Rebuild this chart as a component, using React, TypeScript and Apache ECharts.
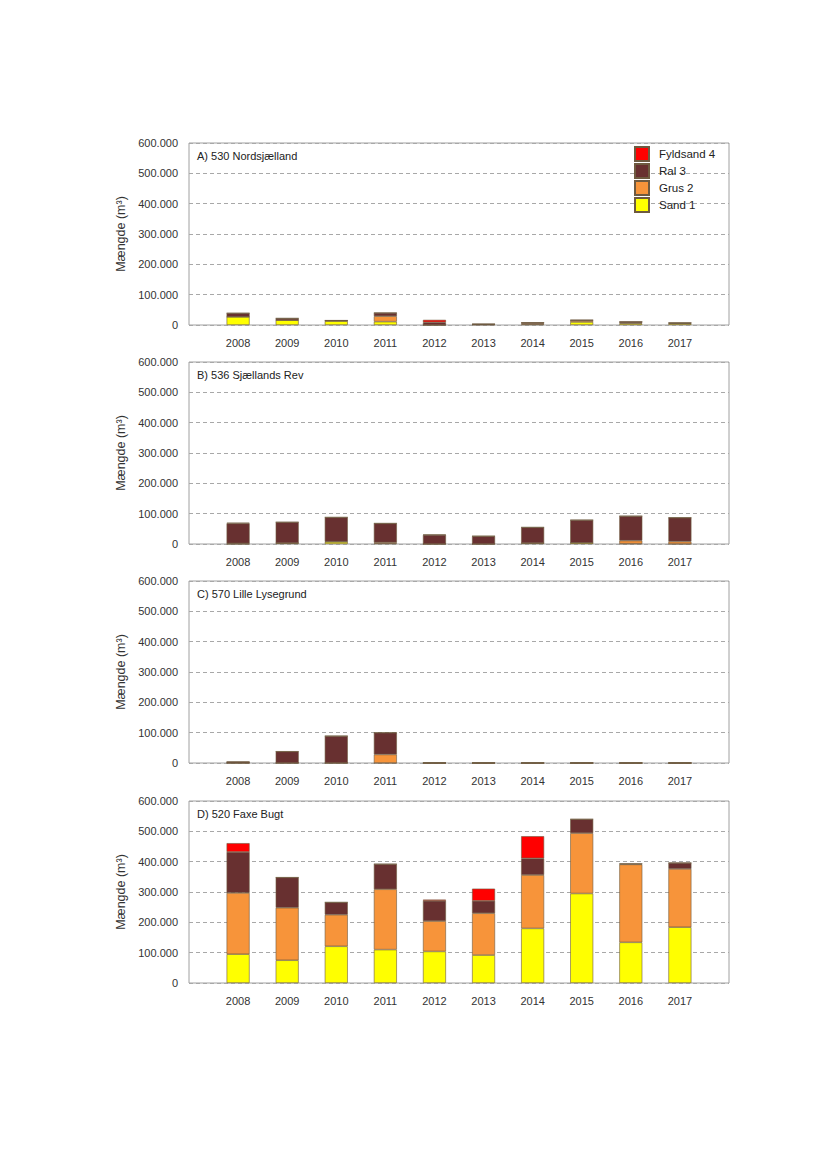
import React, { useEffect, useRef } from "react";
import * as echarts from "echarts";

const years = [2008, 2009, 2010, 2011, 2012, 2013, 2014, 2015, 2016, 2017];
const axisYears = ["2007", ...years.map(String), "2018"];
const seriesNames = ["Sand 1", "Grus 2", "Ral 3", "Fyldsand 4"];
const legendOrder = ["Fyldsand 4", "Ral 3", "Grus 2", "Sand 1"];
const colors = ["#ffff00", "#f7943a", "#683030", "#ff0000"];
const yTicks = [0, 100000, 200000, 300000, 400000, 500000, 600000];

const panelTitles = [
  "A) 530 Nordsjælland",
  "B) 536 Sjællands Rev",
  "C) 570 Lille Lysegrund",
  "D) 520 Faxe Bugt",
];

// Panel A
const aSand = [27000, 16000, 13000, 11000, 0, 1000, 2000, 10000, 5000, 4000];
const aGrus = [0, 0, 1000, 18000, 0, 1000, 3000, 5000, 2000, 2000];
const aRal = [12000, 6000, 1000, 11000, 9000, 1000, 3000, 1000, 4000, 1000];
const aFyld = [0, 0, 0, 0, 8000, 0, 0, 0, 0, 0];

// Panel B
const bSand = [0, 3000, 7000, 2000, 0, 0, 3000, 4000, 1000, 0];
const bGrus = [2000, 0, 1000, 3000, 0, 0, 0, 0, 10000, 8000];
const bRal = [66000, 69000, 80000, 63000, 30000, 26000, 52000, 75000, 81000, 79000];
const bFyld = [2000, 0, 0, 0, 1000, 0, 0, 0, 0, 0];

// Panel C
const cSand = [0, 0, 0, 0, 0, 0, 0, 0, 0, 0];
const cGrus = [0, 0, 0, 28000, 0, 0, 0, 0, 0, 0];
const cRal = [4000, 38000, 89000, 72000, 0, 0, 0, 0, 0, 0];
const cFyld = [0, 0, 0, 0, 0, 0, 0, 0, 0, 0];

// Panel D
const dSand = [95000, 75000, 121000, 110000, 104000, 92000, 180000, 295000, 134000, 184000];
const dGrus = [202000, 173000, 104000, 199000, 100000, 138000, 176000, 199000, 257000, 192000];
const dRal = [135000, 100000, 41000, 83000, 67000, 41000, 55000, 46000, 2000, 20000];
const dFyld = [29000, 0, 0, 0, 4000, 40000, 73000, 0, 0, 0];

const panels = [
  [aSand, aGrus, aRal, aFyld],
  [bSand, bGrus, bRal, bFyld],
  [cSand, cGrus, cRal, cFyld],
  [dSand, dGrus, dRal, dFyld],
];

const gridTops = [143, 362, 581, 801];
const gridLeft = 189;
const gridWidth = 540;
const gridHeight = 182;

const FONT = "Liberation Sans, Arial, sans-serif";

function fmt(v: number) {
  if (v === 0) return "0";
  const s = String(Math.round(v));
  return s.replace(/\B(?=(\d{3})+(?!\d))/g, ".");
}

export default function App() {
  const ref = useRef<HTMLDivElement>(null);

  useEffect(() => {
    if (!ref.current) return;
    const chart = echarts.init(ref.current, undefined, { renderer: "svg" });

    const grid = gridTops.map((t) => ({
      left: gridLeft,
      top: t,
      width: gridWidth,
      height: gridHeight,
      show: true,
      borderColor: "#a0a0a0",
      borderWidth: 1,
      backgroundColor: "transparent",
    }));

    const xAxis = gridTops.map((_, i) => ({
      type: "category",
      gridIndex: i,
      data: axisYears,
      boundaryGap: false,
      axisLine: { show: false },
      axisTick: { show: false },
      splitLine: { show: false },
      axisLabel: {
        margin: 12,
        interval: 0,
        color: "#333",
        fontFamily: FONT,
        fontSize: 11,
        formatter: (v: string) => (v === "2007" || v === "2018" ? "" : v),
      },
    }));

    const yAxis = gridTops.map((_, i) => ({
      type: "value",
      gridIndex: i,
      min: yTicks[0],
      max: yTicks[yTicks.length - 1],
      interval: 100000,
      name: "Mængde (m³)",
      nameLocation: "middle",
      nameGap: 50,
      nameTextStyle: { color: "#333", fontFamily: FONT, fontSize: 12.5 },
      axisLine: { show: false },
      axisTick: { show: false },
      splitLine: {
        show: true,
        lineStyle: { color: "#a8a8a8", type: [4, 3], width: 1 },
      },
      axisLabel: {
        margin: 11,
        color: "#333",
        fontFamily: FONT,
        fontSize: 11,
        formatter: (v: number) => fmt(v),
      },
    }));

    const series: any[] = [];
    panels.forEach((panel, pi) => {
      panel.forEach((vals, si) => {
        series.push({
          type: "bar",
          name: seriesNames[si],
          xAxisIndex: pi,
          yAxisIndex: pi,
          stack: "p" + pi,
          barWidth: 23,
          data: years.map((y, k) => [String(y), vals[k]]),
          itemStyle: {
            color: colors[si],
            borderColor: "#6e5a40",
            borderWidth: 0.6,
          },
        });
      });
    });

    const graphic = gridTops.map((t, i) => ({
      type: "text",
      left: 197,
      top: t + 7,
      style: {
        text: panelTitles[i],
        fill: "#222",
        font: `11px ${FONT}`,
      },
    }));

    chart.setOption({
      animation: false,
      backgroundColor: "#fff",
      grid,
      xAxis,
      yAxis,
      series,
      graphic,
      legend: {
        data: legendOrder,
        orient: "vertical",
        left: 629,
        top: 141,
        itemWidth: 14,
        itemHeight: 14,
        itemGap: 1,
        icon: "rect",
        textStyle: {
          color: "#222",
          fontFamily: FONT,
          fontSize: 11.5,
          padding: [0, 0, 0, 5],
        },
        selectedMode: false,
      },
    });

    return () => chart.dispose();
  }, []);

  return (
    <div
      ref={ref}
      style={{ position: "absolute", left: 0, top: 0, width: 827, height: 1169 }}
    />
  );
}
